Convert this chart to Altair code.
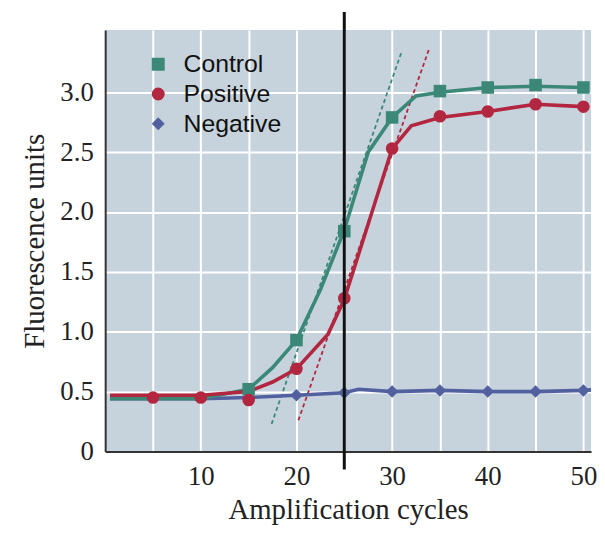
import altair as alt
import pandas as pd

# ---- data ----
series_names = ["Control", "Positive", "Negative"]
series_colors = ["#3b8878", "#b3263f", "#52609f"]
series_shapes = ["square", "circle", "diamond"]

ctrl_line_x = [0.5, 10, 15, 17.5, 20, 22.5, 25, 27.5, 30, 32.5, 35, 40, 45, 50]
ctrl_line_y = [0.44, 0.44, 0.52, 0.70, 0.93, 1.35, 1.85, 2.50, 2.79, 2.97, 3.00, 3.04, 3.05, 3.04]
pos_line_x = [0.5, 10, 15, 17.5, 20, 23.3, 25, 27.5, 30, 32, 35, 40, 45, 50]
pos_line_y = [0.47, 0.47, 0.50, 0.58, 0.69, 0.98, 1.27, 1.90, 2.53, 2.72, 2.79, 2.84, 2.90, 2.88]
neg_line_x = [0.5, 10, 15, 20, 25, 26.5, 30, 35, 40, 45, 50, 52]
neg_line_y = [0.44, 0.44, 0.45, 0.47, 0.49, 0.52, 0.50, 0.51, 0.50, 0.50, 0.51, 0.52]

ctrl_pt_x = [15, 20, 25, 30, 35, 40, 45, 50]
ctrl_pt_y = [0.52, 0.93, 1.84, 2.79, 3.01, 3.04, 3.06, 3.04]
pos_pt_x = [5, 10, 15, 20, 25, 30, 35, 40, 45, 50]
pos_pt_y = [0.45, 0.45, 0.43, 0.69, 1.28, 2.53, 2.80, 2.84, 2.90, 2.88]
neg_pt_x = [20, 25, 30, 35, 40, 45, 50]
neg_pt_y = [0.47, 0.49, 0.50, 0.51, 0.50, 0.50, 0.51]

# tangent (dashed) lines: endpoints
ctrl_tan_x = [17.4, 31.0]
ctrl_tan_y = [0.23, 3.34]
pos_tan_x = [20.2, 33.9]
pos_tan_y = [0.26, 3.37]

# threshold cycle line
threshold_cycle = 25
threshold_y = [-0.15, 3.67]

x_ticks = [5, 10, 15, 20, 25, 30, 35, 40, 45, 50]
y_ticks = [0, 0.5, 1.0, 1.5, 2.0, 2.5, 3.0]

# ---- tables ----
def table(name, xs, ys):
    return pd.DataFrame({"series": name, "cycle": xs, "value": ys})

lines = {
    "Negative": table("Negative", neg_line_x, neg_line_y),
    "Control": table("Control", ctrl_line_x, ctrl_line_y),
    "Positive": table("Positive", pos_line_x, pos_line_y),
}
points = pd.concat([
    table("Negative", neg_pt_x, neg_pt_y),
    table("Control", ctrl_pt_x, ctrl_pt_y),
    table("Positive", pos_pt_x, pos_pt_y),
])
tangents = pd.concat([
    table("Control", ctrl_tan_x, ctrl_tan_y),
    table("Positive", pos_tan_x, pos_tan_y),
])
rule_df = pd.DataFrame({"cycle": [threshold_cycle], "y1": [threshold_y[0]], "y2": [threshold_y[1]]})

serif = "Liberation Serif"

x_enc = alt.X(
    "cycle:Q",
    scale=alt.Scale(domain=[0, 50.8], nice=False, zero=False),
    axis=alt.Axis(
        values=x_ticks,
        labelExpr="datum.value % 10 == 0 ? datum.label : ''",
        title="Amplification cycles",
        ticks=False,
        labelPadding=12,
        titlePadding=7,
        labelFont=serif, labelFontSize=27, labelColor="#222",
        titleFont=serif, titleFontSize=29, titleFontWeight="normal", titleColor="#222",
        grid=True, gridColor="white", gridWidth=2, gridOpacity=1,
        domainColor="#333", domainWidth=2,
        labelFlush=False,
    ),
)
y_enc = alt.Y(
    "value:Q",
    scale=alt.Scale(domain=[0, 3.52], nice=False),
    axis=alt.Axis(
        values=y_ticks,
        labelExpr="datum.value == 0 ? '0' : format(datum.value, '.1f')",
        title="Fluorescence units",
        ticks=False,
        labelPadding=12,
        titlePadding=10,
        labelFont=serif, labelFontSize=27, labelColor="#222",
        titleFont=serif, titleFontSize=29, titleFontWeight="normal", titleColor="#222",
        grid=True, gridColor="white", gridWidth=2, gridOpacity=1,
        domainColor="#333", domainWidth=2,
        labelFlush=False,
    ),
)

# line colours: same mapping, domain listed in drawing order (keeps it a separate,
# un-merged scale so the marker legend is not disabled)
line_order = ["Negative", "Control", "Positive"]
stroke_scale = alt.Scale(
    domain=line_order,
    range=[series_colors[series_names.index(n)] for n in line_order],
)

tan_layer = alt.Chart(tangents).mark_line(strokeDash=[4, 3], strokeWidth=1.8).encode(
    x=x_enc, y=y_enc,
    stroke=alt.Stroke("series:N", scale=stroke_scale, legend=None),
    detail="series:N",
)

line_layers = []
for name in line_order:
    line_layers.append(
        alt.Chart(lines[name]).mark_line(strokeWidth=3.6, clip=True).encode(
            x="cycle:Q", y="value:Q",
            stroke=alt.Stroke("series:N", scale=stroke_scale, legend=None),
        )
    )

legend = alt.Legend(
    orient="top-left", offset=22, padding=0, title=None,
    labelFont="Liberation Sans", labelFontSize=25, labelColor="#111",
    symbolSize=170, symbolOffset=19, labelOffset=13, rowPadding=4,
)
pt_layer = alt.Chart(points).mark_point(filled=True, size=160, opacity=1).encode(
    x="cycle:Q", y="value:Q",
    color=alt.Color("series:N", scale=alt.Scale(domain=series_names, range=series_colors), legend=legend),
    shape=alt.Shape("series:N", scale=alt.Scale(domain=series_names, range=series_shapes), legend=legend),
)

rule_layer = alt.Chart(rule_df).mark_rule(color="#111", strokeWidth=3, clip=False).encode(
    x="cycle:Q", y="y1:Q", y2="y2:Q",
)

chart = alt.layer(tan_layer, *line_layers, pt_layer, rule_layer).properties(
    width=490, height=425,
    padding={"left": 13, "top": 0, "right": 0, "bottom": 4},
    background="white",
).configure_view(fill="#c6d3dc", stroke=None)

chart.save("out.html", embed_options={"renderer": "svg", "actions": False})
